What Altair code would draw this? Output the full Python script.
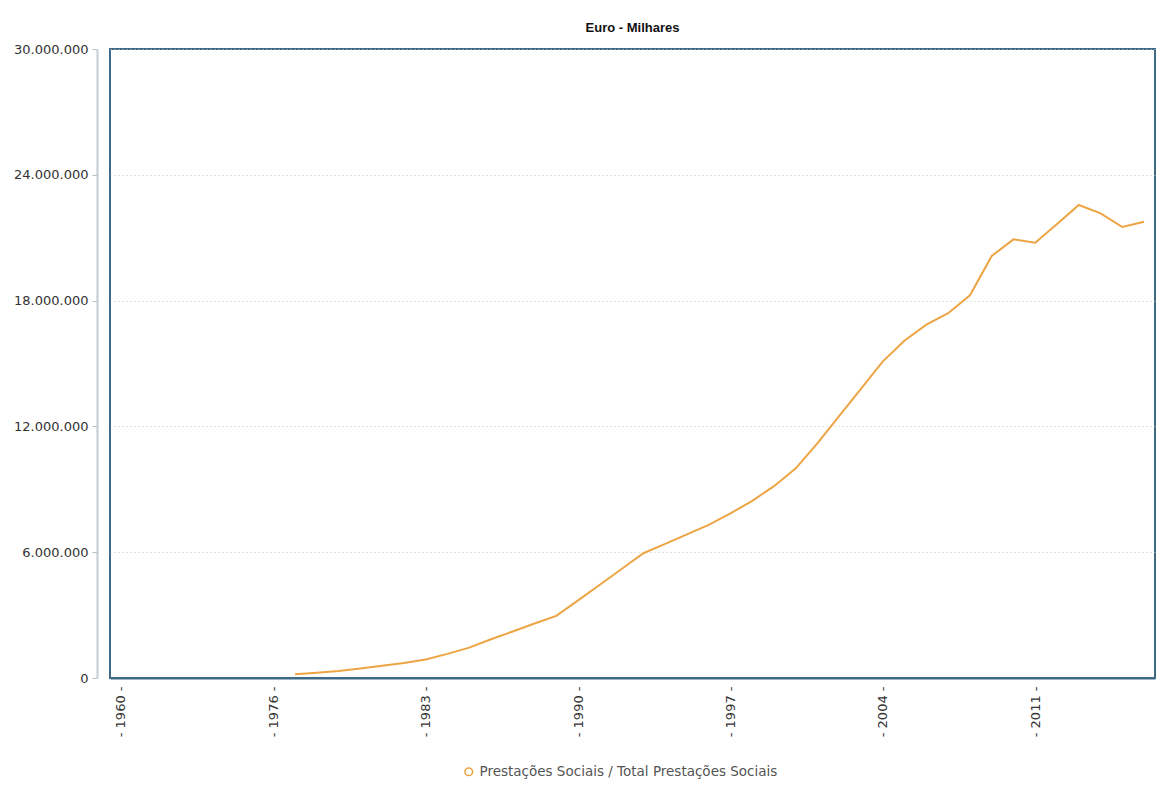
import altair as alt
import pandas as pd

# Category axis (PORDATA style: 1960, then 1970 onwards)
categories = ['1960', '1970', '1971', '1972', '1973', '1974', '1975', '1976', '1977', '1978',
              '1979', '1980', '1981', '1982', '1983', '1984', '1985', '1986', '1987', '1988',
              '1989', '1990', '1991', '1992', '1993', '1994', '1995', '1996', '1997', '1998',
              '1999', '2000', '2001', '2002', '2003', '2004', '2005', '2006', '2007', '2008',
              '2009', '2010', '2011', '2012', '2013', '2014', '2015', '2016']

tick_labels = ['1960', '1976', '1983', '1990', '1997', '2004', '2011']

years = ['1977', '1978', '1979', '1980', '1981', '1982', '1983', '1984', '1985', '1986',
         '1987', '1988', '1989', '1990', '1991', '1992', '1993', '1994', '1995', '1996',
         '1997', '1998', '1999', '2000', '2001', '2002', '2003', '2004', '2005', '2006',
         '2007', '2008', '2009', '2010', '2011', '2012', '2013', '2014', '2015', '2016']

# Euro - Milhares
values = [180000, 250000, 330000, 450000, 580000, 720000, 880000, 1150000, 1450000, 1850000,
          2220000, 2600000, 2960000, 3700000, 4450000, 5200000, 5950000, 6400000, 6850000, 7300000,
          7850000, 8450000, 9150000, 10000000, 11200000, 12500000, 13800000, 15100000, 16100000, 16850000,
          17400000, 18250000, 20130000, 20920000, 20760000, 21650000, 22560000, 22160000, 21510000, 21760000]

series_name = 'Prestações Sociais / Total Prestações Sociais'
y_ticks = [0, 6000000, 12000000, 18000000, 24000000, 30000000]

df = pd.DataFrame({'ano': years, 'valor': values, 'serie': [series_name] * len(years)})

line_color = '#EDA443'
frame_color = '#3E6A88'

chart = alt.Chart(df).mark_line(strokeWidth=2, color=line_color).encode(
    x=alt.X('ano:O',
            scale=alt.Scale(type='point', domain=categories, padding=0.5),
            axis=alt.Axis(title=None, values=tick_labels, labelAngle=270,
                          labelExpr="'- ' + datum.label + ' -'",
                          ticks=False, labelPadding=8, labelFontSize=13,
                          labelFont='DejaVu Sans', labelColor='#333333',
                          domainColor=frame_color, domainWidth=2, grid=False)),
    y=alt.Y('valor:Q',
            scale=alt.Scale(domain=[0, 30000000], nice=False),
            axis=alt.Axis(title=None, values=y_ticks,
                          labelExpr="replace(format(datum.value, ','), /,/g, '.')",
                          offset=13, tickSize=5, tickColor='#B8C0C8', labelPadding=4,
                          labelFontSize=13, labelFont='DejaVu Sans', labelColor='#333333',
                          domainColor='#C4CCD4', domainWidth=2,
                          grid=True, gridColor='#C8C8C8', gridDash=[1, 3], gridWidth=1)),
    color=alt.Color('serie:N',
                    scale=alt.Scale(range=[line_color]),
                    legend=alt.Legend(title=None, orient='none', legendX=352, legendY=716,
                                      symbolType='circle', symbolSize=60,
                                      symbolStrokeWidth=1.5, symbolFillColor='white',
                                      labelFont='DejaVu Sans', labelFontSize=13.5,
                                      labelLimit=0,
                                      labelColor='#555555', direction='horizontal'))
).properties(
    width=1045,
    height=629,
    background='white',
    title=alt.TitleParams('Euro - Milhares', font='Liberation Sans', fontSize=13,
                          fontWeight='bold', color='#111111', anchor='middle', offset=8),
    padding={'left': 5, 'top': 14, 'right': 5, 'bottom': 0}
).configure_view(
    stroke=frame_color, strokeWidth=2
)

chart.save("out.html", embed_options={"renderer": "svg", "actions": False})
